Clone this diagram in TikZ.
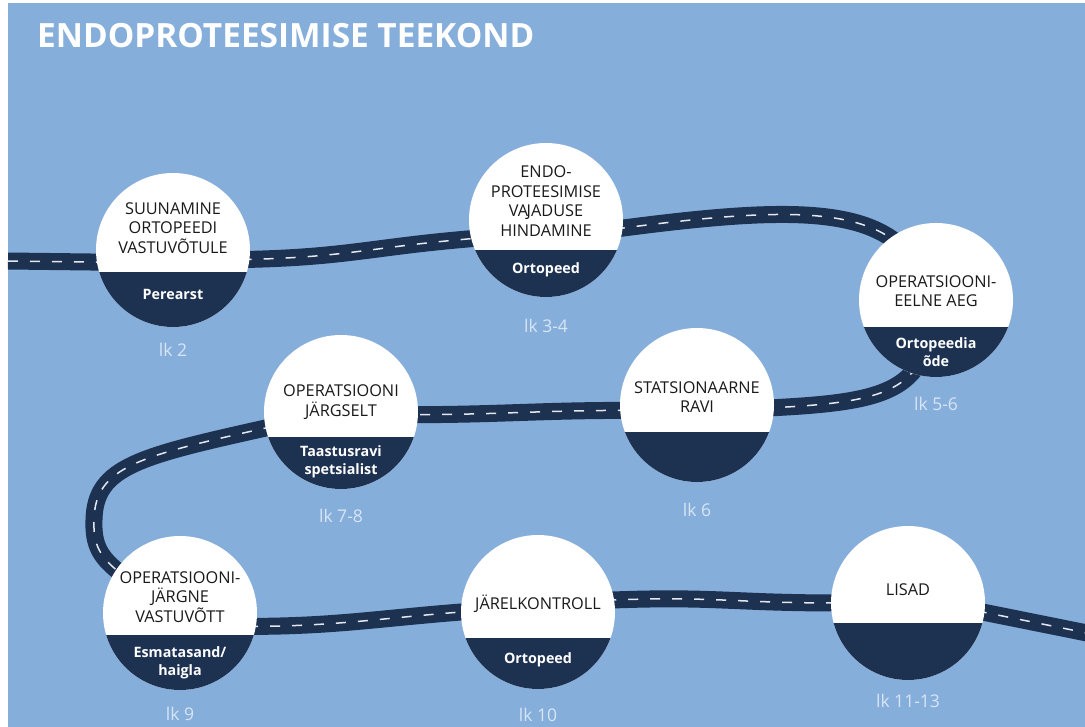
\documentclass[tikz,border=0pt]{standalone}
\usepackage{fontspec}
\setmainfont{Open Sans}
\definecolor{sky}{HTML}{86AEDB}
\definecolor{navy}{HTML}{1D3151}
\definecolor{pagetxt}{HTML}{D8E5F4}
\definecolor{ink}{HTML}{1A1A1A}
\definecolor{stripe}{HTML}{E4E8EE}
\pgfdeclarelayer{bg}
\pgfdeclarelayer{road}
\pgfsetlayers{bg,road,main}
\begin{document}
\begin{tikzpicture}[x=1pt,y=-1pt,
    stopcircle/.style={circle,fill=white,minimum size=154pt,inner sep=0pt,
      path picture={\fill[navy] (path picture bounding box.center) ++(-80,#1) rectangle ++(160,90);}},
    what/.style={text=ink,align=center,inner sep=0pt,font=\fontsize{16.3}{19.5}\selectfont},
    who/.style={text=white,align=center,inner sep=0pt,font=\bfseries\fontsize{14.3}{18.5}\selectfont},
    page/.style={text=pagetxt,inner sep=0pt,font=\fontsize{17.5}{18}\selectfont},
    road/.style={draw=navy,line width=17pt,shorten <=-8pt,shorten >=-8pt,
      postaction={draw=stripe,line width=1.5pt,dash pattern=on 10pt off 12pt}}]
  \begin{pgfonlayer}{bg}
    \fill[white] (0,0) rectangle (1085,727);
    \fill[sky] (8,3) rectangle (1085,727);
  \end{pgfonlayer}
  \useasboundingbox (0,0) rectangle (1085,727);
  \node[anchor=west,inner sep=0pt,text=white,font=\bfseries\fontsize{33.4}{33}\selectfont] (title) at (37,36) {ENDOPROTEESIMISE TEEKOND};
  \coordinate (start) at (8,261);
  \coordinate (finish) at (1092,634);

  % stops along the way
  \node[stopcircle=22] (s1) at (173,250) {};
  \node[what] (t1) at (173,228) {SUUNAMINE\\ORTOPEEDI\\VASTUVÕTULE};
  \node[who] (w1) at (173,294) {Perearst};
  \node[page] (p1) at (173,350) {lk 2};

  \node[stopcircle=30] (s2) at (546,220) {};
  \node[what] (t2) at (546,201) {ENDO-\\PROTEESIMISE\\VA\kern-1.5pt JADUSE\\HINDAMINE};
  \node[who] (w2) at (546,270) {Ortopeed};
  \node[page] (p2) at (546,326) {lk 3-4};

  \node[stopcircle=27] (s3) at (936,300) {};
  \node[what] (t3) at (936,291) {OPERATSIOONI-\\EELNE AEG};
  \node[who] (w3) at (936,352) {Ortopeedia\\õde};
  \node[page] (p3) at (936,404) {lk 5-6};

  \node[stopcircle=25] (s4) at (341,412) {};
  \node[what] (t4) at (341,402) {OPERATSIOONI\\JÄRGSELT};
  \node[who] (w4) at (341,462) {Taastusravi\\spetsialist};
  \node[page] (p4) at (341,516) {lk 7-8};

  \node[stopcircle=27] (s5) at (697,405) {};
  \node[what] (t5) at (697,397) {STATSIONAARNE\\RAVI};
  \node[page] (p5) at (697,510) {lk 6};

  \node[stopcircle=22] (s6) at (180,613) {};
  \node[what] (t6) at (180,597) {OPERATSIOONI-\\JÄRGNE\\VASTUVÕTT};
  \node[who] (w6) at (180,663) {Esmatasand/\\haigla};
  \node[page] (p6) at (180,714) {lk 9};

  \node[stopcircle=26] (s7) at (538,612) {};
  \node[what] (t7) at (538,604) {JÄRELKONTROLL};
  \node[who] (w7) at (538,660) {Ortopeed};
  \node[page] (p7) at (538,715) {lk 10};

  \node[stopcircle=20] (s8) at (908,603) {};
  \node[what] (t8) at (908,590) {LISAD};
  \node[page] (p8) at (908,701) {lk 11-13};

  % the road
  \begin{pgfonlayer}{road}
    \draw[road,shorten <=0pt] (start) -- (s1.189);
    \draw[road] (s1.353) .. controls +(100,-2) and +(-100,8) .. (s2.194);
    \draw[road] (s2.354) .. controls (760,210) and (850,205) .. (s3.126);
    \draw[road] (s3.252) .. controls (895,398) and (850,404) .. (s5.358);
    \draw[road] (s5.184) .. controls +(-80,0) and +(80,0) .. (s4.358);
    \draw[road] (s4.192) .. controls (140,456) and (95,466) .. (94,520) .. controls (93,545) and (100,558) .. (s6.146);
    \draw[road] (s6.350) .. controls +(80,0) and +(-80,6) .. (s7.180);
    \draw[road] (s7.9) .. controls +(100,-4) and +(-100,0) .. (s8.180);
    \draw[road,shorten >=0pt] (s8.353) -- (finish);
  \end{pgfonlayer}
\end{tikzpicture}
\end{document}
